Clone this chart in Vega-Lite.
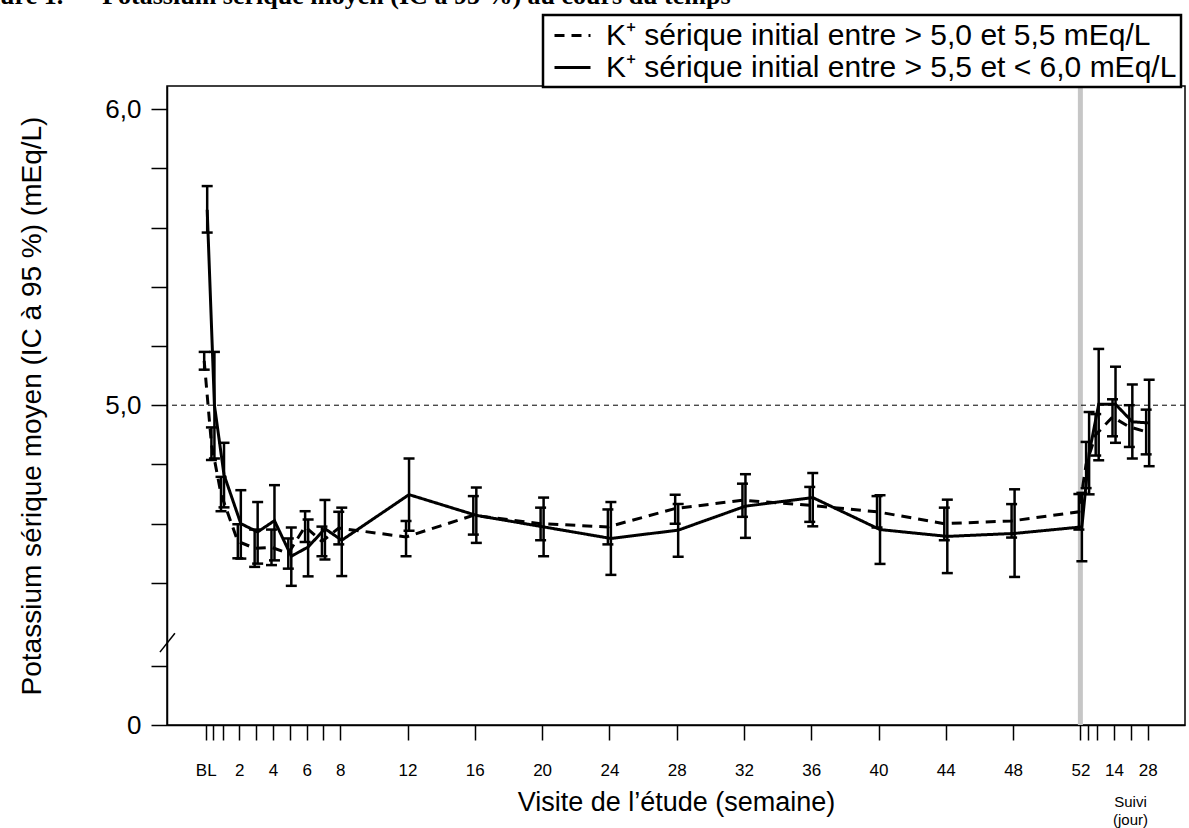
{
  "$schema": "https://vega.github.io/schema/vega-lite/v6.json",
  "autosize": {"type": "none"},
  "width": 1018,
  "height": 639,
  "padding": {"left": 167, "top": 86, "right": 4, "bottom": 103},
  "background": "white",
  "config": {
    "view": {"stroke": "black", "strokeWidth": 1.5},
    "font": "Liberation Sans"
  },
  "title": {
    "text": "Figure 1.\u00a0\u00a0\u00a0\u00a0\u00a0\u00a0Potassium sérique moyen (IC à 95 %) au cours du temps",
    "font": "Liberation Serif",
    "fontWeight": "bold",
    "fontSize": 26,
    "color": "black",
    "anchor": "start",
    "frame": "group",
    "baseline": "alphabetic",
    "offset": 0,
    "dx": -203,
    "dy": 16
  },
  "resolve": {"axis": {"x": "independent"}},
  "datasets": {
    "k": [
      {"week": 0, "group": "A", "mean": 5.15, "lo": 5.12, "hi": 5.18},
      {"week": 0.43, "group": "A", "mean": 4.87, "lo": 4.815, "hi": 4.925},
      {"week": 1, "group": "A", "mean": 4.70, "lo": 4.642, "hi": 4.758},
      {"week": 2, "group": "A", "mean": 4.54, "lo": 4.483, "hi": 4.598},
      {"week": 3, "group": "A", "mean": 4.517, "lo": 4.454, "hi": 4.58},
      {"week": 4, "group": "A", "mean": 4.52, "lo": 4.46, "hi": 4.58},
      {"week": 5, "group": "A", "mean": 4.50, "lo": 4.448, "hi": 4.55},
      {"week": 6, "group": "A", "mean": 4.59, "lo": 4.538, "hi": 4.642},
      {"week": 7, "group": "A", "mean": 4.54, "lo": 4.49, "hi": 4.59},
      {"week": 8, "group": "A", "mean": 4.585, "lo": 4.53, "hi": 4.64},
      {"week": 12, "group": "A", "mean": 4.555, "lo": 4.49, "hi": 4.609},
      {"week": 16, "group": "A", "mean": 4.628, "lo": 4.563, "hi": 4.693},
      {"week": 20, "group": "A", "mean": 4.60, "lo": 4.544, "hi": 4.654},
      {"week": 24, "group": "A", "mean": 4.589, "lo": 4.53, "hi": 4.648},
      {"week": 28, "group": "A", "mean": 4.651, "lo": 4.60, "hi": 4.698},
      {"week": 32, "group": "A", "mean": 4.679, "lo": 4.623, "hi": 4.735},
      {"week": 36, "group": "A", "mean": 4.662, "lo": 4.606, "hi": 4.724},
      {"week": 40, "group": "A", "mean": 4.64, "lo": 4.587, "hi": 4.693},
      {"week": 44, "group": "A", "mean": 4.60, "lo": 4.544, "hi": 4.654},
      {"week": 48, "group": "A", "mean": 4.609, "lo": 4.553, "hi": 4.666},
      {"week": 52, "group": "A", "mean": 4.64, "lo": 4.58, "hi": 4.70},
      {"week": 52.43, "group": "A", "mean": 4.80, "lo": 4.72, "hi": 4.876},
      {"week": 53, "group": "A", "mean": 4.90, "lo": 4.83, "hi": 4.97},
      {"week": 54, "group": "A", "mean": 4.96, "lo": 4.895, "hi": 5.02},
      {"week": 55, "group": "A", "mean": 4.927, "lo": 4.859, "hi": 5.0},
      {"week": 56, "group": "A", "mean": 4.91, "lo": 4.834, "hi": 4.985},
      {"week": 0, "group": "B", "mean": 5.66, "lo": 5.583, "hi": 5.74},
      {"week": 0.43, "group": "B", "mean": 5.0, "lo": 4.82, "hi": 5.18},
      {"week": 1, "group": "B", "mean": 4.765, "lo": 4.655, "hi": 4.873},
      {"week": 2, "group": "B", "mean": 4.60, "lo": 4.482, "hi": 4.713},
      {"week": 3, "group": "B", "mean": 4.572, "lo": 4.465, "hi": 4.673},
      {"week": 4, "group": "B", "mean": 4.61, "lo": 4.476, "hi": 4.73},
      {"week": 5, "group": "B", "mean": 4.49, "lo": 4.39, "hi": 4.587},
      {"week": 6, "group": "B", "mean": 4.521, "lo": 4.422, "hi": 4.614},
      {"week": 7, "group": "B", "mean": 4.583, "lo": 4.479, "hi": 4.68},
      {"week": 8, "group": "B", "mean": 4.544, "lo": 4.423, "hi": 4.654},
      {"week": 12, "group": "B", "mean": 4.698, "lo": 4.576, "hi": 4.82},
      {"week": 16, "group": "B", "mean": 4.628, "lo": 4.535, "hi": 4.722},
      {"week": 20, "group": "B", "mean": 4.589, "lo": 4.49, "hi": 4.688},
      {"week": 24, "group": "B", "mean": 4.55, "lo": 4.427, "hi": 4.673},
      {"week": 28, "group": "B", "mean": 4.578, "lo": 4.488, "hi": 4.666},
      {"week": 32, "group": "B", "mean": 4.659, "lo": 4.552, "hi": 4.767},
      {"week": 36, "group": "B", "mean": 4.688, "lo": 4.591, "hi": 4.771},
      {"week": 40, "group": "B", "mean": 4.58, "lo": 4.464, "hi": 4.696},
      {"week": 44, "group": "B", "mean": 4.557, "lo": 4.433, "hi": 4.681},
      {"week": 48, "group": "B", "mean": 4.567, "lo": 4.42, "hi": 4.716},
      {"week": 52, "group": "B", "mean": 4.589, "lo": 4.473, "hi": 4.704},
      {"week": 52.43, "group": "B", "mean": 4.837, "lo": 4.699, "hi": 4.977},
      {"week": 53, "group": "B", "mean": 5.003, "lo": 4.814, "hi": 5.19},
      {"week": 54, "group": "B", "mean": 5.003, "lo": 4.873, "hi": 5.13},
      {"week": 55, "group": "B", "mean": 4.944, "lo": 4.82, "hi": 5.07},
      {"week": 56, "group": "B", "mean": 4.94, "lo": 4.794, "hi": 5.086}
    ]
  },
  "layer": [
    {
      "data": {"values": [{"week": 52}]},
      "mark": {"type": "rule", "color": "#c6c6c6", "strokeWidth": 5},
      "encoding": {
        "x": {
          "field": "week",
          "type": "quantitative",
          "scale": {"domain": [-2.3, 58.22], "nice": false, "zero": false},
          "axis": {
            "orient": "bottom",
            "title": "Visite de l’étude (semaine)",
            "titleFontSize": 27,
            "titleFontWeight": "normal",
            "titleColor": "black",
            "titleFont": "Liberation Sans",
            "titleBaseline": "alphabetic",
            "titleY": 85,
            "values": [0, 0.43, 1, 2, 3, 4, 5, 6, 7, 8, 12, 16, 20, 24, 28, 32, 36, 40, 44, 48, 52, 52.43, 53, 54, 55, 56],
            "labelExpr": "datum.value == 0 ? 'BL' : datum.value == 54 ? '14' : datum.value == 56 ? '28' : (datum.value <= 52 && datum.value == round(datum.value) && datum.value % 2 == 0 && (datum.value <= 8 || datum.value % 4 == 0)) ? format(datum.value, 'd') : ''",
            "labelFontSize": 17,
            "labelColor": "black",
            "labelOverlap": false,
            "labelFlush": false,
            "labelBound": false,
            "labelPadding": 22,
            "tickSize": 15,
            "tickColor": "black",
            "tickWidth": 1.5,
            "domainColor": "black",
            "domainWidth": 1.5,
            "grid": false
          }
        }
      }
    },
    {
      "data": {"values": [{"ref": 5}]},
      "mark": {"type": "rule", "color": "black", "strokeWidth": 1, "strokeDash": [5, 4]},
      "encoding": {
        "y": {
          "field": "ref",
          "type": "quantitative",
          "scale": {"domain": [3.92, 6.078], "nice": false, "zero": false},
          "axis": {
            "title": "Potassium sérique moyen (IC à 95 %) (mEq/L)",
            "titleFontSize": 28,
            "titleFontWeight": "normal",
            "titleColor": "black",
            "titleFont": "Liberation Sans",
            "titlePadding": 58,
            "values": [6.0, 5.9, 5.8, 5.7, 5.6, 5.5, 5.4, 5.3, 5.2, 5.1, 5.0, 4.9, 4.8, 4.7, 4.6, 4.5, 4.4, 4.3, 4.118, 4.019, 3.92],
            "labelExpr": "datum.value < 4 ? '0' : datum.value == 6 ? '6,0' : datum.value == 5.5 ? '5,5' : datum.value == 5 ? '5,0' : datum.value == 4.5 ? '4,5' : ''",
            "labelFontSize": 26,
            "labelColor": "black",
            "labelPadding": 10,
            "labelOverlap": false,
            "labelFlush": false,
            "labelBound": false,
            "tickSize": 16,
            "tickColor": "black",
            "tickWidth": 1.5,
            "domainColor": "black",
            "domainWidth": 1.5,
            "grid": false
          }
        }
      }
    },
    {
      "data": {"values": [{"bx": -2.72, "by": 4.166, "bx2": -1.83, "by2": 4.23}]},
      "mark": {"type": "rule", "color": "black", "strokeWidth": 1.5},
      "encoding": {
        "x": {
          "field": "bx",
          "type": "quantitative",
          "axis": {
            "orient": "bottom",
            "title": ["Suivi", "(jour)"],
            "titleFontSize": 15,
            "titleFontWeight": "normal",
            "titleColor": "black",
            "titleFont": "Liberation Sans",
            "titleLineHeight": 18,
            "titleAlign": "center",
            "titleAnchor": "start",
            "titleBaseline": "top",
            "titleAngle": 0,
            "titleX": 963,
            "titleY": 69,
            "labels": false,
            "ticks": false,
            "domain": false,
            "grid": false
          }
        },
        "y": {"field": "by", "type": "quantitative"},
        "x2": {"field": "bx2"},
        "y2": {"field": "by2"}
      }
    },
    {
      "data": {"name": "k"},
      "transform": [{"filter": "datum.group == 'A'"}],
      "mark": {"type": "rule", "color": "black", "strokeWidth": 2.5, "xOffset": -1.5},
      "encoding": {
        "x": {"field": "week", "type": "quantitative", "axis": null},
        "y": {"field": "lo", "type": "quantitative"},
        "y2": {"field": "hi"}
      }
    },
    {
      "data": {"name": "k"},
      "transform": [{"filter": "datum.group == 'A'"}],
      "mark": {"type": "tick", "orient": "horizontal", "color": "black", "size": 11, "thickness": 2.5, "opacity": 1, "xOffset": -1.5},
      "encoding": {
        "x": {"field": "week", "type": "quantitative", "axis": null},
        "y": {"field": "lo", "type": "quantitative"}
      }
    },
    {
      "data": {"name": "k"},
      "transform": [{"filter": "datum.group == 'A'"}],
      "mark": {"type": "tick", "orient": "horizontal", "color": "black", "size": 11, "thickness": 2.5, "opacity": 1, "xOffset": -1.5},
      "encoding": {
        "x": {"field": "week", "type": "quantitative", "axis": null},
        "y": {"field": "hi", "type": "quantitative"}
      }
    },
    {
      "data": {"name": "k"},
      "transform": [{"filter": "datum.group == 'A'"}],
      "mark": {"type": "line", "color": "black", "strokeWidth": 3, "xOffset": -1.5},
      "encoding": {
        "x": {"field": "week", "type": "quantitative", "axis": null},
        "y": {"field": "mean", "type": "quantitative"},
        "strokeDash": {
          "field": "group",
          "type": "nominal",
          "scale": {"domain": ["A", "B"], "range": [[10, 7], [1, 0]]},
          "legend": {
            "title": null,
            "orient": "none",
            "legendX": 376,
            "legendY": -71,
            "direction": "vertical",
            "strokeColor": "black",
            "fillColor": "white",
            "padding": 4,
            "labelExpr": "datum.label == 'A' ? 'K⁺ sérique initial entre > 5,0 et 5,5 mEq/L' : 'K⁺ sérique initial entre > 5,5 et < 6,0 mEq/L'",
            "labelFontSize": 30,
            "labelFont": "Liberation Sans",
            "labelColor": "black",
            "labelLimit": 1000,
            "labelOffset": 26,
            "symbolType": "M-0.6,0H1.8",
            "symbolSize": 900,
            "symbolStrokeWidth": 3,
            "symbolStrokeColor": "black",
            "rowPadding": 0,
            "encode": {"legend": {"update": {"strokeWidth": {"value": 2.5}}}}
          }
        }
      }
    },
    {
      "data": {"name": "k"},
      "transform": [{"filter": "datum.group == 'B'"}],
      "mark": {"type": "rule", "color": "black", "strokeWidth": 2.5, "xOffset": 1.5},
      "encoding": {
        "x": {"field": "week", "type": "quantitative", "axis": null},
        "y": {"field": "lo", "type": "quantitative"},
        "y2": {"field": "hi"}
      }
    },
    {
      "data": {"name": "k"},
      "transform": [{"filter": "datum.group == 'B'"}],
      "mark": {"type": "tick", "orient": "horizontal", "color": "black", "size": 11, "thickness": 2.5, "opacity": 1, "xOffset": 1.5},
      "encoding": {
        "x": {"field": "week", "type": "quantitative", "axis": null},
        "y": {"field": "lo", "type": "quantitative"}
      }
    },
    {
      "data": {"name": "k"},
      "transform": [{"filter": "datum.group == 'B'"}],
      "mark": {"type": "tick", "orient": "horizontal", "color": "black", "size": 11, "thickness": 2.5, "opacity": 1, "xOffset": 1.5},
      "encoding": {
        "x": {"field": "week", "type": "quantitative", "axis": null},
        "y": {"field": "hi", "type": "quantitative"}
      }
    },
    {
      "data": {"name": "k"},
      "transform": [{"filter": "datum.group == 'B'"}],
      "mark": {"type": "line", "color": "black", "strokeWidth": 3, "xOffset": 1.5},
      "encoding": {
        "x": {"field": "week", "type": "quantitative", "axis": null},
        "y": {"field": "mean", "type": "quantitative"},
        "strokeDash": {"field": "group", "type": "nominal"}
      }
    }
  ]
}
